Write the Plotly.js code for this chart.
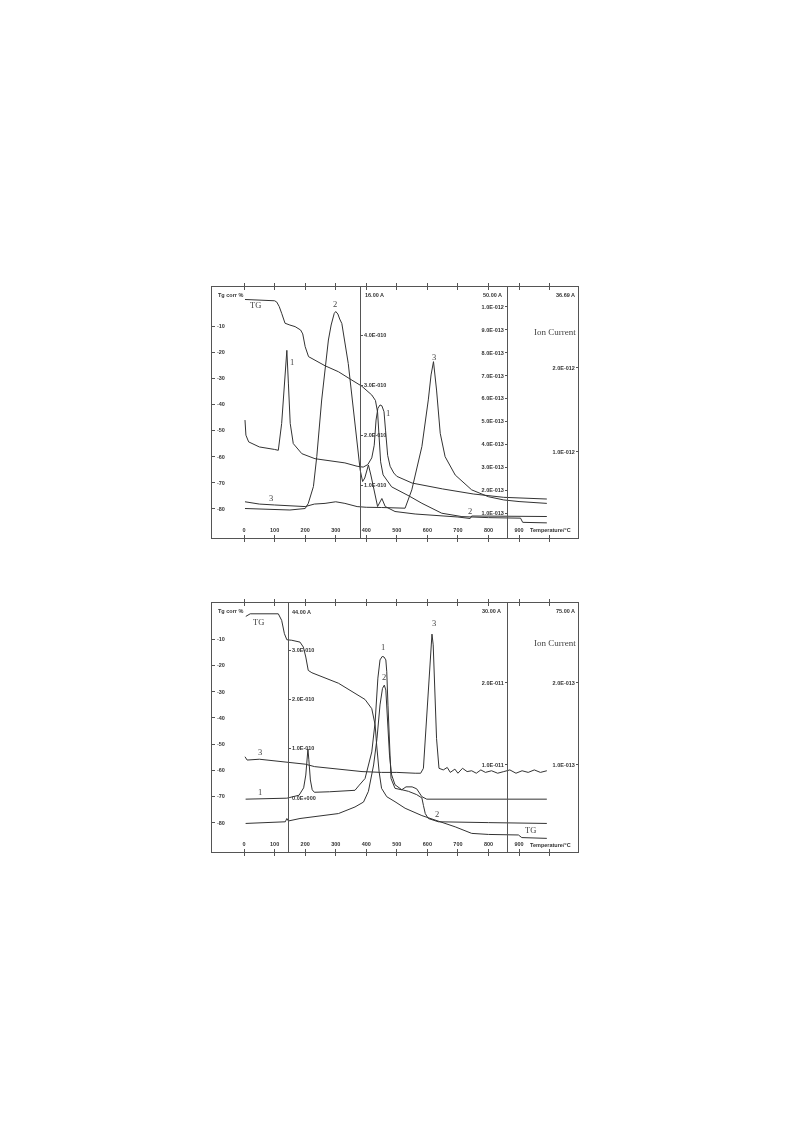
<!DOCTYPE html>
<html><head><meta charset="utf-8">
<script src="https://cdn.plot.ly/plotly-3.0.1.min.js"></script>
<style>html,body{margin:0;padding:0;background:#fff}#chart{width:793px;height:1123px;filter:grayscale(1)}</style>
</head><body><div id="chart"></div>
<script>
// ---------- DATA (temperature in °C, TG in %, ion currents in units of the axis multiplier) ----------
// Upper chart
const tg1T = [3, 100, 107, 115, 123, 134, 150, 167, 185, 192, 200, 211, 265, 309, 350, 385, 418, 430, 437, 442, 447, 455, 483, 540, 582, 647, 713, 800, 905, 912, 991];
const tg1V = [0.2, -0.3, -0.8, -2.5, -5.1, -8.9, -9.6, -10.2, -11.5, -13, -17.9, -21.7, -25.2, -27.5, -30.5, -33, -36.4, -38.5, -43, -52, -62, -67, -71.6, -75.1, -77.9, -81.7, -83.0, -83.4, -83.6, -85.2, -85.4];

const c1T1 = [3, 6, 15, 50, 100, 112, 123, 132, 140, 145, 151, 161, 189, 232, 275, 330, 370, 390, 405, 418, 426, 432, 438, 445, 451, 458, 463, 470, 478, 490, 500, 550, 650, 750, 850, 991];
const c1V1 = [1.38, 1.20, 1.12, 1.06, 1.03, 1.02, 1.34, 1.82, 2.21, 1.82, 1.34, 1.10, 0.98, 0.92, 0.90, 0.87, 0.83, 0.82, 0.85, 0.93, 1.08, 1.38, 1.52, 1.56, 1.55, 1.48, 1.26, 0.96, 0.83, 0.75, 0.71, 0.63, 0.56, 0.50, 0.46, 0.44]; // ×1E-012 A

const c2T1 = [3, 100, 150, 200, 210, 227, 238, 254, 276, 285, 295, 300, 307, 313, 320, 341, 358, 369, 380, 388, 395, 407, 415, 423, 437, 451, 462, 494, 560, 700, 740, 745, 850, 991];
const c2V1 = [0.53, 0.52, 0.50, 0.53, 0.63, 0.97, 1.57, 2.70, 3.90, 4.20, 4.43, 4.47, 4.42, 4.32, 4.23, 3.43, 2.57, 1.90, 1.30, 1.07, 1.14, 1.40, 1.20, 0.97, 0.57, 0.73, 0.57, 0.47, 0.42, 0.36, 0.33, 0.38, 0.37, 0.37]; // ×1E-010 A

const c3T1 = [3, 50, 100, 150, 200, 230, 265, 300, 330, 370, 400, 450, 500, 527, 549, 582, 603, 612, 620, 630, 642, 658, 691, 745, 800, 850, 900, 991];
const c3V1 = [1.49, 1.39, 1.35, 1.33, 1.28, 1.39, 1.42, 1.49, 1.42, 1.28, 1.25, 1.24, 1.22, 1.21, 2.01, 3.90, 5.94, 7.03, 7.61, 6.37, 4.48, 3.46, 2.66, 2.01, 1.71, 1.57, 1.50, 1.42]; // ×1E-013 A

// Lower chart
const tg2T = [5.6, 20, 112, 123, 132, 140, 156, 183, 194, 202, 210, 222, 309, 363, 396, 418, 429, 434, 442, 450, 467, 494, 527, 582, 636, 691, 745, 800, 898, 909, 991];
const tg2V = [-1.3, -0.3, -0.3, -2.8, -7.9, -10.2, -10.4, -11.1, -13.0, -16.8, -21.9, -22.8, -26.8, -30.8, -33.0, -36.5, -42.7, -50.4, -60.6, -66.9, -70.1, -72.0, -74.5, -77.3, -79.4, -81.6, -84.1, -84.5, -84.7, -85.7, -86.0];

const c1T2 = [5, 50, 140, 180, 195, 202, 206, 209, 212, 217, 223, 230, 280, 330, 363, 375, 396, 418, 429, 438, 445, 452, 458, 464, 467, 471, 476, 481, 494, 516, 530, 550, 565, 582, 598, 700, 991];
const c1V2 = [-0.03, -0.02, -0.01, 0.05, 0.20, 0.46, 0.87, 0.99, 0.77, 0.36, 0.16, 0.11, 0.12, 0.13, 0.15, 0.24, 0.39, 0.93, 1.54, 2.43, 2.80, 2.87, 2.86, 2.80, 2.56, 1.88, 1.07, 0.39, 0.19, 0.16, 0.22, 0.22, 0.18, 0.02, -0.03, -0.03, -0.03]; // ×1E-010 A

const c2T2 = [5, 50, 135, 140, 145, 183, 230, 309, 363, 391, 407, 424, 435, 445, 453, 459, 464, 469, 476, 483, 494, 516, 538, 565, 582, 587, 593, 603, 636, 800, 991];
const c2V2 = [0.29, 0.30, 0.31, 0.35, 0.32, 0.35, 0.37, 0.41, 0.49, 0.55, 0.68, 1.00, 1.32, 1.73, 1.93, 1.97, 1.91, 1.53, 1.12, 0.88, 0.76, 0.70, 0.68, 0.64, 0.60, 0.51, 0.41, 0.35, 0.31, 0.30, 0.29]; // ×1E-011 A

const c3T2 = [3, 10, 50, 100, 144, 200, 231, 300, 386, 450, 500, 560, 578, 587, 593, 603, 612, 615, 619, 625, 630, 638, 652, 665, 675, 690, 700, 715, 730, 745, 760, 775, 790, 810, 830, 850, 870, 890, 910, 930, 950, 970, 991];
const c3V2 = [1.10, 1.06, 1.07, 1.05, 1.04, 1.01, 0.98, 0.95, 0.92, 0.91, 0.91, 0.90, 0.90, 0.96, 1.32, 1.93, 2.46, 2.59, 2.46, 1.93, 1.32, 0.96, 0.94, 0.97, 0.91, 0.95, 0.90, 0.96, 0.92, 0.93, 0.90, 0.94, 0.91, 0.93, 0.90, 0.92, 0.94, 0.90, 0.93, 0.91, 0.94, 0.91, 0.93]; // ×1E-013 A

const tempTicks = [0, 100, 200, 300, 400, 500, 600, 700, 800, 900, 1000];
const tempTickText = ['0', '100', '200', '300', '400', '500', '600', '700', '800', '900', ''];
const tgTicks = [-80, -70, -60, -50, -40, -30, -20, -10];

// ---------- LAYOUT HELPERS ----------
const W = 793, H = 1123;
const px = x => x / W, py = y => 1 - y / H;
const X0 = 212, X1 = 578;
const xdom = [px(X0), px(X1)];
const top1 = 287, bot1 = 538, top2 = 603, bot2 = 852;
const LC = '#333';
const AX = '#555';
const tickFont = {family: 'Liberation Sans, Arial, sans-serif', size: 5.5, color: '#333', weight: 'bold'};
const TR = [-105, 1093];

function line(x, y, xa, ya, scale) {
  return {x: x, y: y.map(v => v * (scale || 1)), xaxis: xa, yaxis: ya, type: 'scatter', mode: 'lines',
          line: {color: LC, width: 1}, hoverinfo: 'skip'};
}
function sci(m, e) { return m.toFixed(1) + 'E-0' + e; }

const data = [
  line(tg1T, tg1V, 'x', 'y'),
  line(c2T1, c2V1, 'x', 'y2', 1e-10),
  line(c3T1, c3V1, 'x', 'y3', 1e-13),
  line(c1T1, c1V1, 'x', 'y4', 1e-12),
  line(tg2T, tg2V, 'x2', 'y5'),
  line(c1T2, c1V2, 'x2', 'y6', 1e-10),
  line(c2T2, c2V2, 'x2', 'y7', 1e-11),
  line(c3T2, c3V2, 'x2', 'y8', 1e-13)
];

function xAxis(anchor) {
  return {domain: xdom, range: TR, anchor: anchor, showline: true, mirror: 'allticks', linecolor: AX, linewidth: 1,
          ticks: 'inside', ticklen: 3, tickcolor: AX, tickvals: tempTicks, ticktext: tempTickText,
          ticklabelposition: 'inside', tickfont: tickFont, showgrid: false, zeroline: false, fixedrange: true};
}
function tgAxis(anchor, dom, range) {
  return {domain: dom, range: range, anchor: anchor, showline: true, mirror: true, linecolor: AX, linewidth: 1,
          ticks: 'inside', ticklen: 3, tickcolor: AX, tickvals: tgTicks, ticktext: tgTicks.map(String),
          ticklabelposition: 'inside', tickfont: tickFont, showgrid: false, zeroline: false, fixedrange: true};
}
function ionAxis(over, posPx, side, range, vals, texts) {
  return {overlaying: over, anchor: 'free', position: px(posPx), side: side, range: range,
          tickvals: vals, ticktext: texts, showline: true, linecolor: AX, linewidth: 1,
          ticks: 'outside', ticklen: 2, tickcolor: AX, tickfont: tickFont,
          showgrid: false, zeroline: false, fixedrange: true};
}

const ax2v = [1, 2, 3, 4];
const ax3v = [1, 2, 3, 4, 5, 6, 7, 8, 9, 10];
const layout = {
  width: W, height: H, margin: {l: 0, r: 0, t: 0, b: 0},
  paper_bgcolor: '#fff', plot_bgcolor: '#fff', showlegend: false,
  xaxis: xAxis('y'),
  yaxis: tgAxis('x', [py(bot1), py(top1)], [-91.2, 4.98]),
  yaxis2: ionAxis('y', 360, 'right', [-0.06e-10, 4.96e-10], ax2v.map(v => v * 1e-10), ax2v.map(v => sci(v, 10))),
  yaxis3: ionAxis('y', 507, 'left', [-0.092e-13, 10.87e-13], ax3v.map(v => v * 1e-13),
                  ax3v.map(v => v === 10 ? '1.0E-012' : sci(v, 13))),
  yaxis4: ionAxis('y', X1, 'left', [-0.024e-12, 2.964e-12], [1e-12, 2e-12], ['1.0E-012', '2.0E-012']),
  xaxis2: xAxis('y5'),
  yaxis5: tgAxis('x2', [py(bot2), py(top2)], [-91.2, 3.82]),
  yaxis6: ionAxis('y5', 288, 'right', [-1.104e-10, 3.957e-10], [0, 1e-10, 2e-10, 3e-10],
                  ['0.0E+000', '1.0E-010', '2.0E-010', '3.0E-010']),
  yaxis7: ionAxis('y5', 507, 'left', [-0.057e-11, 2.968e-11], [1e-11, 2e-11], ['1.0E-011', '2.0E-011']),
  yaxis8: ionAxis('y5', X1, 'left', [-0.057e-13, 2.968e-13], [1e-13, 2e-13], ['1.0E-013', '2.0E-013']),
  annotations: []
};

function ann(text, x, y, xanchor, font) {
  layout.annotations.push({text: text, x: px(x), y: py(y), xref: 'paper', yref: 'paper', xanchor: xanchor || 'left',
                           yanchor: 'middle', showarrow: false, font: font || tickFont});
}
const serif = {family: 'Liberation Serif, Times New Roman, serif', size: 8.5, color: '#444'};
const serifBig = {family: 'Liberation Serif, Times New Roman, serif', size: 9, color: '#444'};

// upper chart texts
ann('Tg corr %', 216, 295);
ann('16.00 A', 363, 295);
ann('50.00 A', 504, 295, 'right');
ann('36.69 A', 577, 295, 'right');
ann('Ion Current', 578, 332, 'right', serifBig);
ann('Temperature/°C', 528, 530);
ann('TG', 255, 305, 'center', serif);
ann('1', 292, 362, 'center', serif);
ann('2', 335, 304, 'center', serif);
ann('3', 434, 357, 'center', serif);
ann('1', 388, 413, 'center', serif);
ann('3', 271, 498, 'center', serif);
ann('2', 470, 511, 'center', serif);
// lower chart texts
ann('Tg corr %', 216, 611);
ann('44.00 A', 290, 612);
ann('30.00 A', 503, 611, 'right');
ann('75.00 A', 577, 611, 'right');
ann('Ion Current', 578, 643, 'right', serifBig);
ann('Temperature/°C', 528, 845);
ann('TG', 258, 622, 'center', serif);
ann('1', 260, 792, 'center', serif);
ann('3', 260, 752, 'center', serif);
ann('1', 383, 647, 'center', serif);
ann('2', 384, 677, 'center', serif);
ann('3', 434, 623, 'center', serif);
ann('2', 437, 814, 'center', serif);
ann('TG', 530, 830, 'center', serif);

Plotly.newPlot('chart', data, layout, {displayModeBar: false, staticPlot: true});
</script>
</body></html>
